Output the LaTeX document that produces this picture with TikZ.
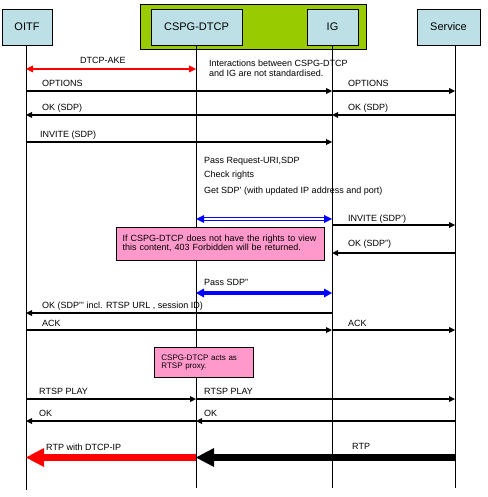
\documentclass[tikz,border=0pt]{standalone}
\usepackage{fontspec}
\setmainfont{Liberation Sans}
\usetikzlibrary{arrows.meta}
\definecolor{hdr}{HTML}{BCE0E6}
\definecolor{grn}{HTML}{99CC00}
\definecolor{pnk}{HTML}{FF99CC}
\begin{document}
\begin{tikzpicture}[x=1pt,y=-1pt,
  lbl/.style={anchor=base west,inner sep=0pt,font=\fontsize{9}{10}\selectfont},
  hdrbox/.style={draw,fill=hdr,line width=0.8pt,minimum height=36pt,inner sep=0pt,font=\fontsize{11}{13}\selectfont},
  life/.style={line width=0.8pt},
  note/.style={draw,fill=pnk,line width=0.8pt,anchor=west,align=left,inner ysep=0pt},
  msg/.style={line width=1.7pt,-{Triangle[length=6pt,width=6pt,line width=0pt]}},
  msgb/.style={line width=2.6pt,-{Triangle[length=6pt,width=6pt,line width=0pt]}},
  ake/.style={red,line width=2.2pt,{Triangle[length=7pt,width=7pt,line width=0pt]}-{Triangle[length=7pt,width=7pt,line width=0pt]}},
  dbl/.style={blue,line width=1pt,double=white,double distance=1.4pt,{Triangle[length=8pt,width=8pt,line width=0pt]}-{Triangle[length=8pt,width=8pt,line width=0pt]}},
  thickblue/.style={blue,line width=4pt,{Triangle[length=8pt,width=9pt,line width=0pt]}-{Triangle[length=8pt,width=9pt,line width=0pt]}},
  big/.style={line width=6.5pt,-{Triangle[length=18pt,width=19pt,line width=0pt]}}
]
\useasboundingbox (0,0) rectangle (487,497);

% header
\node[draw,fill=grn,line width=0.8pt,minimum width=226pt,minimum height=45pt,inner sep=0pt] (grp) at (253,26.5) {};
\node[hdrbox,minimum width=50pt] (oitf) at (27,27) {OITF};
\node[hdrbox,minimum width=91pt] (cspg) at (196.5,27) {CSPG-DTCP};
\node[hdrbox,minimum width=51pt] (ig) at (332.5,27) {IG};
\node[hdrbox,minimum width=63pt] (serv) at (448.5,27) {Service};

% lifelines
\coordinate (o) at (26,0);
\coordinate (c) at (196,0);
\coordinate (i) at (332,0);
\coordinate (s) at (455,0);
\coordinate (oB) at (26,490);
\coordinate (cB) at (196,488);
\coordinate (iB) at (332,488);
\coordinate (sB) at (455,488);
\draw[life] (oitf.south -| o) -- (oB);
\draw[life] (cspg.south -| c) -- (cB);
\draw[life] (ig.south -| i) -- (iB);
\draw[life] (serv.south -| s) -- (sB);

% DTCP-AKE
\draw[ake] ([yshift=-69pt]o) -- ([yshift=-69pt]c);
\node[lbl] (lake) at (80,64) {DTCP-AKE};
\node[anchor=north west,inner sep=0pt,align=left,font=\fontsize{9}{10}\selectfont] (nint) at (209,59.5) {Interactions between CSPG-DTCP\\and IG are not standardised.};

% OPTIONS
\draw[msg] ([yshift=-91pt]o) -- ([yshift=-91pt]i);
\draw[msg] ([yshift=-91pt]i) -- ([yshift=-91pt]s);
\node[lbl] (lopt1) at (42,87) {OPTIONS};
\node[lbl] (lopt2) at (348,87) {OPTIONS};

% OK (SDP)
\draw[msgb] ([yshift=-115pt]s) -- ([yshift=-115pt]i);
\draw[msgb] ([yshift=-115pt]i) -- ([yshift=-115pt]o);
\node[lbl] (lok1) at (42,111) {OK (SDP)};
\node[lbl] (lok2) at (348,111) {OK (SDP)};

% INVITE
\draw[msg] ([yshift=-142pt]o) -- ([yshift=-142pt]i);
\node[lbl] (linv) at (40,138) {INVITE (SDP)};

\node[lbl] (lpass) at (204,163) {Pass Request-URI,SDP};
\node[lbl] (lchk) at (204,177) {Check rights};
\node[lbl] (lget) at (204,193) {Get SDP' (with updated IP address and port)};

\draw[dbl] ([yshift=-219pt]c) -- ([yshift=-219pt]i);

\draw[msg] ([yshift=-225pt]i) -- ([yshift=-225pt]s);
\node[lbl] (linv2) at (348,221) {INVITE (SDP')};

\node[note,font=\fontsize{9}{9}\selectfont,text width=196pt,inner xsep=6pt,minimum height=33pt] (n1) at (116.3,243.6) {If CSPG-DTCP does not have the rights to view\\this content, 403 Forbidden will be returned.};

\draw[msgb] ([yshift=-253pt]s) -- ([yshift=-253pt]i);
\node[lbl] (lok3) at (348,246) {OK (SDP'')};

\draw[thickblue] ([yshift=-293pt]c) -- ([yshift=-293pt]i);
\node[lbl] (lpass2) at (204,285) {Pass SDP''};

\draw[msg] ([yshift=-313pt]i) -- ([yshift=-313pt]o);
\node[lbl] (lok4) at (42,308) {OK (SDP''' incl. RTSP URL , session ID)};

\draw[msg] ([yshift=-330pt]o) -- ([yshift=-330pt]i);
\draw[msg] ([yshift=-330pt]i) -- ([yshift=-330pt]s);
\node[lbl] (lack1) at (42,326) {ACK};
\node[lbl] (lack2) at (348,326) {ACK};

\node[note,font=\fontsize{8}{8}\selectfont,text width=85.6pt,inner xsep=6.7pt,minimum height=30pt] (n2) at (154.3,362.3) {CSPG-DTCP acts as\\RTSP proxy.};

\draw[msg] ([yshift=-399pt]o) -- ([yshift=-399pt]c);
\draw[msg] ([yshift=-399pt]c) -- ([yshift=-399pt]s);
\node[lbl] (lplay1) at (39,394) {RTSP PLAY};
\node[lbl] (lplay2) at (204,394) {RTSP PLAY};

\draw[msgb] ([yshift=-421pt]s) -- ([yshift=-421pt]c);
\draw[msgb] ([yshift=-421pt]c) -- ([yshift=-421pt]o);
\node[lbl] (lok5) at (39,416) {OK};
\node[lbl] (lok6) at (204,416) {OK};

\draw[big,black] ([yshift=-457.5pt]s) -- ([yshift=-457.5pt]c);
\draw[big,red] ([yshift=-457.5pt]c) -- ([yshift=-457.5pt]o);
\node[lbl] (lrtp) at (352,449) {RTP};
\node[lbl] (lrtpd) at (46,450) {RTP with DTCP-IP};
\end{tikzpicture}
\end{document}
